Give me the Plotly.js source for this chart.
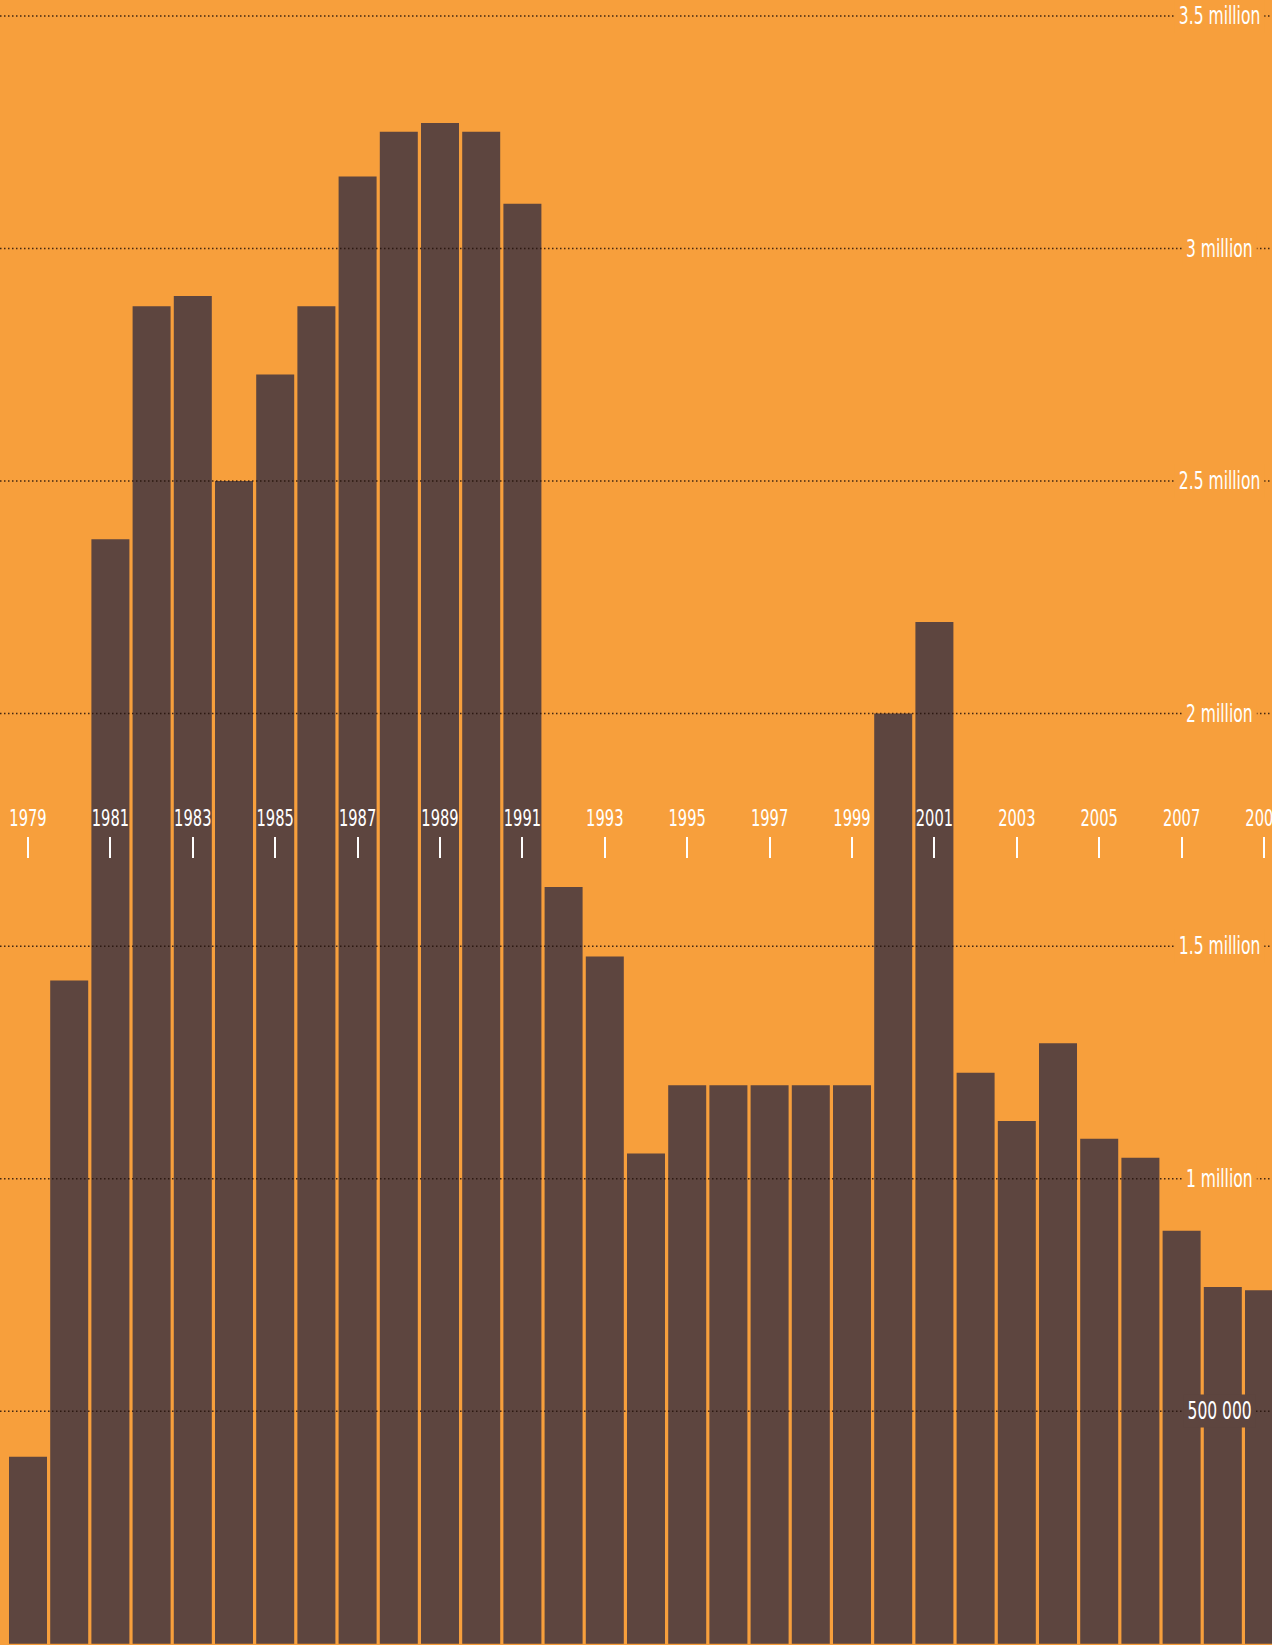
<!DOCTYPE html>
<html>
<head>
<meta charset="utf-8">
<script src="https://cdn.plot.ly/plotly-3.0.1.min.js"></script>
<style>
  html, body { margin: 0; padding: 0; background: #F79F3C; }
  #chart { width: 1272px; height: 1645px; }
</style>
</head>
<body>
<div id="chart"></div>
<script>
// ---- data ----
const years = [1979, 1980, 1981, 1982, 1983, 1984, 1985, 1986, 1987, 1988,
               1989, 1990, 1991, 1992, 1993, 1994, 1995, 1996, 1997, 1998,
               1999, 2000, 2001, 2002, 2003, 2004, 2005, 2006, 2007, 2008, 2009];
const counts = [402000, 1426000, 2375000, 2876000, 2898000, 2500000, 2729000, 2876000, 3155000, 3251000,
                3270000, 3251000, 3096000, 1627000, 1478000, 1054000, 1201000, 1201000, 1201000, 1201000,
                1201000, 2000000, 2197000, 1228000, 1124000, 1291000, 1086000, 1045000, 888000, 767000, 760000];
const tickYears = [1979, 1981, 1983, 1985, 1987, 1989, 1991, 1993, 1995, 1997,
                   1999, 2001, 2003, 2005, 2007, 2009];
const gridValues = [500000, 1000000, 1500000, 2000000, 2500000, 3000000, 3500000];
const gridLabels = ['500 000', '1 million', '1.5 million', '2 million', '2.5 million', '3 million', '3.5 million'];

// ---- style ----
const ORANGE = '#F79F3C';
const BROWN = '#5D453F';
const FONT = "'DejaVu Sans Condensed', 'Liberation Sans Narrow', sans-serif";

const trace = {
  type: 'bar',
  x: years,
  y: counts,
  marker: { color: BROWN, line: { width: 0 } },
  hoverinfo: 'skip'
};

const shapes = gridValues.map(v => ({
  type: 'line', xref: 'paper', yref: 'y',
  x0: 0, x1: 1, y0: v, y1: v,
  layer: 'above',
  line: { color: 'rgba(35,18,10,0.85)', width: 1.5, dash: '1.5px,2.5px' }
}));

const annotations = gridValues.map((v, i) => {
  // label sits on the colour beneath it: brown where the bars reach, orange otherwise
  const under = counts[counts.length - 2] > v ? BROWN : ORANGE;
  return {
    xref: 'paper', yref: 'y',
    x: 1219.5 / 1272, y: v,
    xanchor: 'center', yanchor: 'middle',
    text: gridLabels[i],
    showarrow: false,
    bgcolor: under,
    borderpad: 2,
    font: { family: FONT, size: 24, color: '#FFFFFF' }
  };
});

const layout = {
  width: 1272, height: 1645,
  margin: { l: 0, r: 0, t: 0, b: 0, pad: 0 },
  paper_bgcolor: ORANGE,
  plot_bgcolor: ORANGE,
  bargap: 0.0777,
  showlegend: false,
  xaxis: {
    range: [1978.3204, 2009.194],
    anchor: 'free',
    position: 1 - 836 / 1645,
    side: 'top',
    tickmode: 'array',
    tickvals: tickYears,
    ticktext: tickYears.map(String),
    ticks: 'inside',
    ticklen: 21,
    tickwidth: 2,
    tickcolor: '#FFFFFF',
    ticklabelstandoff: 5,
    ticklabeloverflow: 'allow',
    tickfont: { family: FONT, size: 23, color: '#FFFFFF' },
    showgrid: false,
    zeroline: false,
    showline: false,
    fixedrange: true,
    layer: 'above traces'
  },
  yaxis: {
    range: [-2576, 3534352],
    visible: false,
    showgrid: false,
    zeroline: false,
    fixedrange: true
  },
  shapes: shapes,
  annotations: annotations
};

// narrow the lettering horizontally (about its anchor) to mimic the tall condensed type of the original
function squeeze(t, f) {
  const w = t.getComputedTextLength();
  const x = parseFloat(t.getAttribute('x')) || 0;
  const prev = t.getAttribute('transform') || '';
  t.setAttribute('transform',
    (prev + ' translate(' + x + ',0) scale(' + f + ',1) translate(' + (-x) + ',0)').trim());
  return w * f;
}

Plotly.newPlot('chart', [trace], layout, { displayModeBar: false, staticPlot: true }).then(gd => {
  gd.querySelectorAll('g.xtick text').forEach(t => squeeze(t, 0.71));
  gd.querySelectorAll('g.annotation').forEach(g => {
    const t = g.querySelector('text.annotation-text');
    if (!t) return;
    const nw = squeeze(t, 0.72);
    g.querySelectorAll('rect').forEach(r => {
      const rx = parseFloat(r.getAttribute('x')) || 0;
      const rw = parseFloat(r.getAttribute('width')) || 0;
      const cx = rx + rw / 2;
      const newW = nw + 8;
      r.setAttribute('x', (cx - newW / 2).toFixed(2));
      r.setAttribute('width', newW.toFixed(2));
    });
  });
});
</script>
</body>
</html>
